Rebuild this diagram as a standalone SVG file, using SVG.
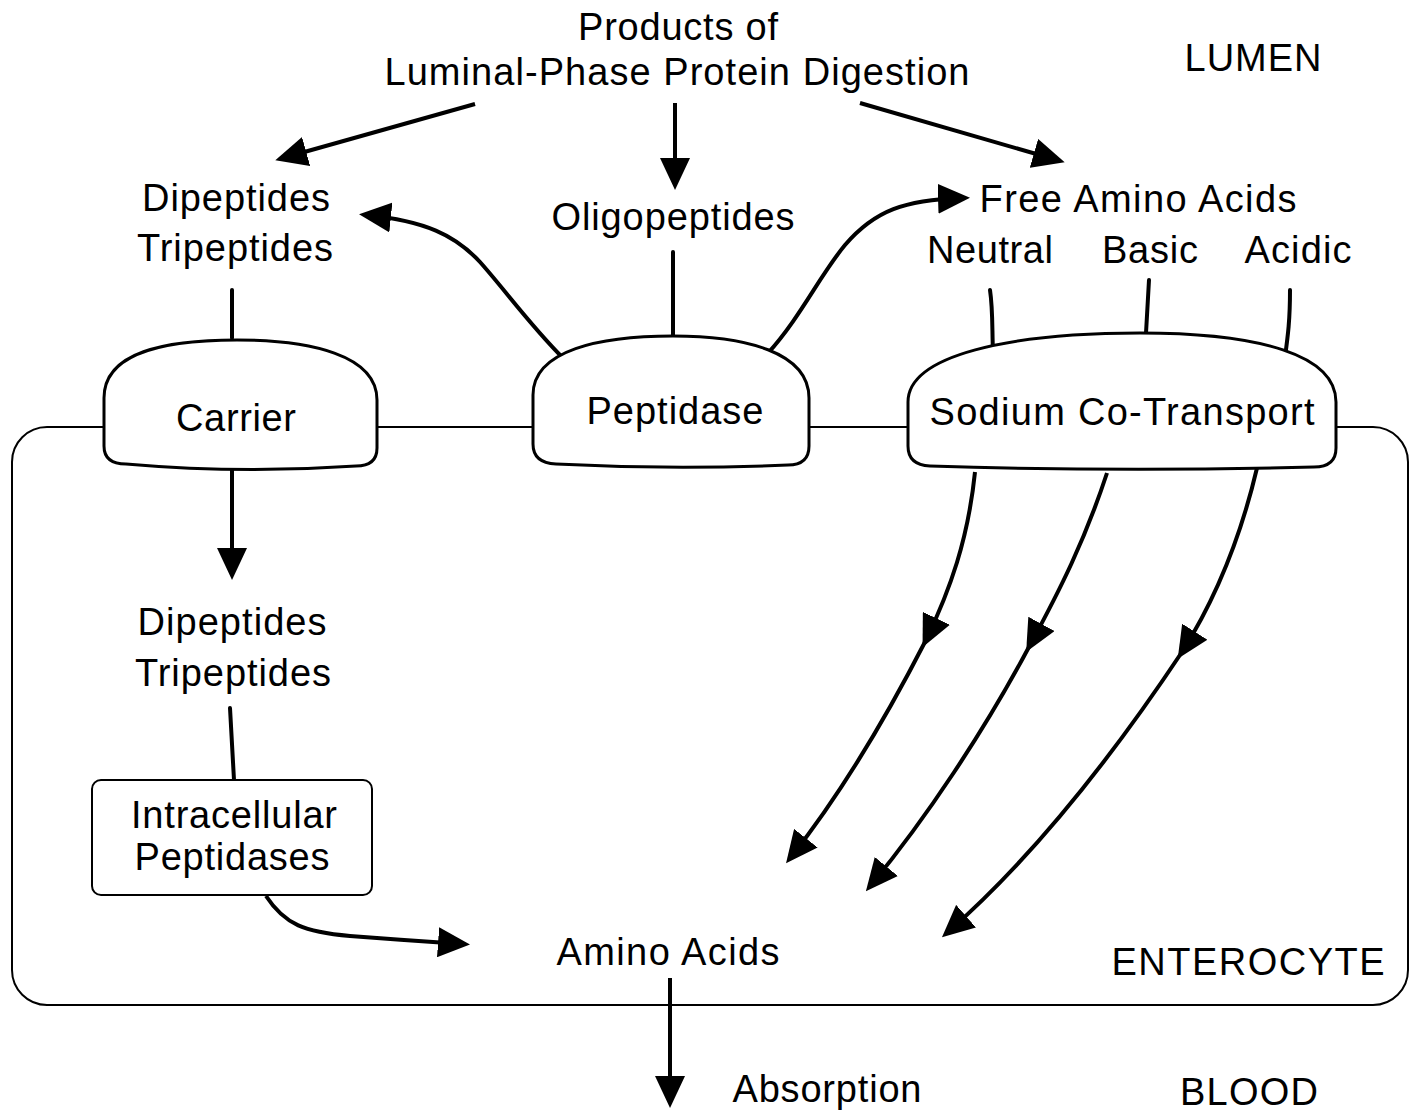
<svg xmlns="http://www.w3.org/2000/svg" width="1412" height="1118" viewBox="0 0 1412 1118">
<defs>
<marker id="ah" viewBox="0 0 32 30" markerWidth="32" markerHeight="30" markerUnits="userSpaceOnUse" orient="auto" refX="24" refY="15">
<path d="M0,0 L32,15 L0,30 Z" fill="#000"/>
</marker>
</defs>
<style>
text{font-family:"Liberation Sans",Arial,sans-serif;font-size:38px;fill:#000}
.c{text-anchor:middle}
.ln{fill:none;stroke:#000;stroke-width:4;stroke-linecap:round}
.ar{fill:none;stroke:#000;stroke-width:4;marker-end:url(#ah)}
.shape{fill:#fff;stroke:#000;stroke-width:3}
.mem{fill:none;stroke:#000;stroke-width:2}
</style>
<rect width="1412" height="1118" fill="#fff"/>

<g id="enterocyte">
<rect class="mem" x="12" y="427" width="1396" height="578" rx="35"/>
<text x="1248" y="975" class="c" textLength="273">ENTEROCYTE</text>
</g>

<g id="lumen-label"><text x="1253" y="71" class="c" textLength="137">LUMEN</text></g>
<g id="blood-label"><text x="1249" y="1105" class="c" textLength="138">BLOOD</text></g>

<g id="connectors">
<path class="ar" d="M475,104 L283,158"/>
<path class="ar" d="M675,103 L675,182"/>
<path class="ar" d="M860,103 L1057,160"/>
<path class="ar" d="M563,358 C530,325 505,290 480,262 C455,235 425,221 367,215"/>
<path class="ar" d="M768,353 C800,318 820,275 845,245 C875,210 905,200 962,198"/>
<path class="ln" d="M232,290 L232,338"/>
<path class="ln" d="M673,252 L673,335"/>
<path class="ln" d="M990,290 C993,310 992,330 993,352"/>
<path class="ln" d="M1149,280 L1146,333"/>
<path class="ln" d="M1290,290 C1290,320 1288,335 1285,357"/>
<path class="ar" d="M232,470 L232,572"/>
<path class="ln" d="M230,708 L234,780"/>
<path class="ar" d="M266,896 C285,925 305,932 350,936 C390,939 420,941 462,944"/>
<path class="ar" d="M670,978 L670,1100"/>
<path class="ar" d="M975,472 C968,540 950,590 926,640"/>
<path class="ar" d="M926,640 C885,720 840,795 791,857"/>
<path class="ar" d="M1107,473 C1085,540 1060,590 1030,645"/>
<path class="ar" d="M1030,645 C985,730 925,820 871,885"/>
<path class="ar" d="M1257,468 C1240,540 1215,600 1182,652"/>
<path class="ar" d="M1182,652 C1110,760 1030,860 948,932"/>
</g>

<g id="title">
<text x="678" y="40" class="c" textLength="200">Products of</text>
<text x="677" y="85" class="c" textLength="585">Luminal-Phase Protein Digestion</text>
</g>

<g id="dipeptides-lumen">
<text x="236" y="211" class="c" textLength="188">Dipeptides</text>
<text x="235" y="261" class="c" textLength="196">Tripeptides</text>
</g>

<g id="oligopeptides"><text x="673" y="230" class="c" textLength="243">Oligopeptides</text></g>

<g id="free-amino-acids">
<text x="1138" y="212" class="c" textLength="317">Free Amino Acids</text>
<text x="990" y="263" class="c" textLength="126">Neutral</text>
<text x="1150" y="263" class="c" textLength="96">Basic</text>
<text x="1298" y="263" class="c" textLength="107">Acidic</text>
</g>

<g id="carrier">
<path class="shape" d="M104,398 C104,352 165,340 237,340 C310,340 377,355 377,400 L377,448 Q377,466 356,466 Q240,474 126,464 Q104,464 104,446 Z"/>
<text x="236" y="431" class="c" textLength="120">Carrier</text>
</g>

<g id="peptidase">
<path class="shape" d="M533,395 C533,350 600,336 673,336 C745,336 809,352 809,398 L809,446 Q809,465 788,465 Q673,470 556,464 Q533,463 533,444 Z"/>
<text x="675" y="424" class="c" textLength="177">Peptidase</text>
</g>

<g id="sodium-co-transport">
<path class="shape" d="M908,402 C908,355 1010,333 1140,333 C1260,333 1336,355 1336,402 L1336,448 Q1336,467 1314,467 Q1120,472 930,466 Q908,465 908,446 Z"/>
<text x="1122" y="425" class="c" textLength="385">Sodium Co-Transport</text>
</g>

<g id="dipeptides-cell">
<text x="232" y="635" class="c" textLength="189">Dipeptides</text>
<text x="233" y="686" class="c" textLength="196">Tripeptides</text>
</g>

<g id="intracellular-peptidases">
<rect x="92" y="780" width="280" height="115" rx="9" fill="#fff" stroke="#000" stroke-width="2"/>
<text x="234" y="828" class="c" textLength="206">Intracellular</text>
<text x="232" y="870" class="c" textLength="195">Peptidases</text>
</g>

<g id="amino-acids"><text x="668" y="965" class="c" textLength="223">Amino Acids</text></g>

<g id="absorption"><text x="827" y="1102" class="c" textLength="189">Absorption</text></g>
</svg>
